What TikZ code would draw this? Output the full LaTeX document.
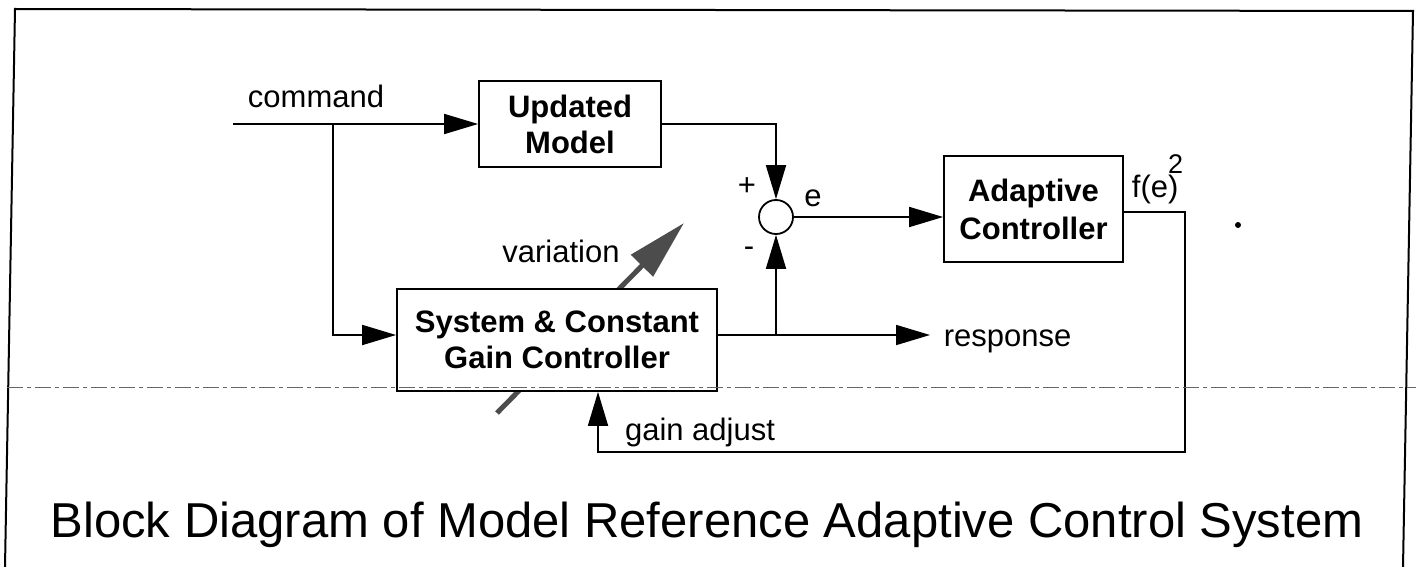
\documentclass[tikz,border=0pt]{standalone}
\usepackage{fontspec}
\setmainfont{Liberation Sans}
\usetikzlibrary{arrows.meta,calc}
\begin{document}
\begin{tikzpicture}[x=1pt,y=-1pt,line width=1.8pt,line join=miter,
  blk/.style={draw,fill=white,line width=1.8pt,align=center,inner sep=0pt,
    font=\fontsize{31}{36}\selectfont\bfseries},
  lbl/.style={inner sep=0pt,anchor=base,font=\fontsize{31}{36}\selectfont},
  arr/.style={-{Triangle[length=34pt,width=20pt]}},
  varr/.style={line width=5pt,black!70,-{Triangle[length=60pt,width=30pt]}},
  rule/.style={line width=0.8pt,black!60,dash pattern=on 16pt off 4pt on 4pt off 4pt}]
\useasboundingbox (0,0) rectangle (1416,567);
% frame
\coordinate (f1) at (5,567);
\coordinate (f2) at (15,9);
\coordinate (f3) at (1413,11);
\coordinate (f4) at (1403,567);
\draw[line width=2pt] (f1) -- (f2) -- (f3) -- (f4);
% variation arrow (behind the box)
\coordinate (v1) at (497,413);
\coordinate (v2) at (684,223);
\draw[varr] (v1) -- (v2);
% blocks
\node[blk,minimum width=182pt,minimum height=86pt] (upd) at (570,124) {Updated\\Model};
\node[draw,circle,minimum size=34pt,inner sep=0pt,line width=1.8pt] (sum) at (776,217) {};
\node[blk,minimum width=179pt,minimum height=106pt] (ada) at (1033.5,209) {Adaptive\\[2pt]Controller};
\node[blk,minimum width=320pt,minimum height=102pt] (sys) at (557,340) {System \& Constant\\Gain Controller};
% coordinates
\coordinate (cmd) at (233,124);
\coordinate (br) at (333,124);
\coordinate (br2) at (776,335);
\coordinate (resp) at (930,335);
\coordinate (fb1) at (1185,212);
\coordinate (fb2) at (1185,452);
\coordinate (fb3) at (598,452);
% connectors
\draw[arr] (cmd) -- (upd.west);
\draw[arr] (br) |- ($(sys.west)+(0,-5)$);
\draw[arr] (upd.east) -| (sum.north);
\draw[arr] (sum.east) -- (sum.east -| ada.west);
\draw[arr] ($(sys.east)+(0,-5)$) -- (resp);
\draw[arr] (br2) -- (sum.south);
\draw[arr] (ada.east |- fb1) -- (fb1) -- (fb2) -- (fb3) -- (fb3 |- sys.south);
% dashed rule
\coordinate (d1) at (7,387);
\coordinate (d2) at (1416,387);
\draw[rule] (d1) -- (d2);
% labels
\node[lbl] (cmdl) at (316,108) {command};
\node[lbl] (varl) at (561,262) {variation};
\node[lbl] (gain) at (700,440) {gain adjust};
\node[lbl,anchor=base west] (respl) at (943,346) {response};
\node[lbl] (el) at (813,206) {e};
\node[inner sep=0pt,font=\fontsize{31}{36}\selectfont] (plus) at (747,187) {+};
\node[inner sep=0pt,font=\fontsize{31}{36}\selectfont] (minus) at (749,252) {-};
\node[lbl,anchor=base west] (fe) at (1131,197) {f(e\rlap{\raisebox{0.75em}{\fontsize{27}{27}\selectfont 2}})};
\fill (1238,225) circle (3pt);
% title
\node[inner sep=0pt,anchor=base,font=\fontsize{49}{55}\selectfont] (title) at (707,537) {Block Diagram of Model Reference Adaptive Control System};
\end{tikzpicture}
\end{document}
